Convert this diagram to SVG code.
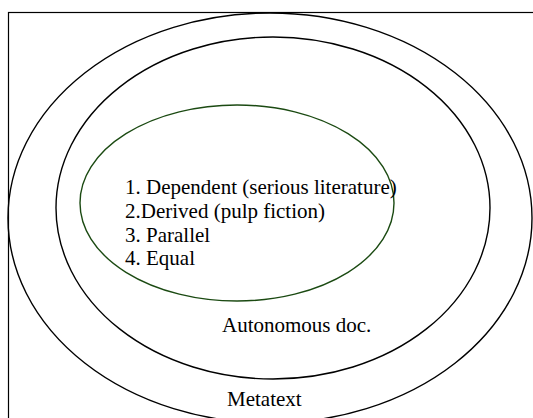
<svg xmlns="http://www.w3.org/2000/svg" width="533" height="418" viewBox="0 0 533 418">
<style>
.e{fill:none;stroke:#000;stroke-width:1.4}
.g{fill:none;stroke:#1b4a12;stroke-width:1.4}
.t{font-family:'Liberation Serif','Times New Roman',serif;font-size:21px;fill:#000}
</style>
<rect x="0" y="0" width="533" height="418" fill="#fff"/>
<rect x="8.5" y="12.5" width="540" height="420" fill="none" stroke="#000" stroke-width="1.2"/>
<g id="metatext">
<ellipse class="e" cx="270" cy="218" rx="262" ry="205"/>
<text class="t" x="227" y="406" font-family="Liberation Serif, serif">Metatext</text>
</g>
<g id="autonomous">
<ellipse class="e" cx="273" cy="208" rx="217" ry="171"/>
<text class="t" x="222" y="332" font-family="Liberation Serif, serif">Autonomous doc.</text>
</g>
<g id="types">
<ellipse class="g" cx="237" cy="203" rx="157" ry="98"/>
<text class="t" x="125" y="194" font-family="Liberation Serif, serif">1. Dependent (serious literature)</text>
<text class="t" x="125" y="218" font-family="Liberation Serif, serif">2.Derived (pulp fiction)</text>
<text class="t" x="125" y="242" font-family="Liberation Serif, serif">3. Parallel</text>
<text class="t" x="125" y="265" font-family="Liberation Serif, serif">4. Equal</text>
</g>
<g id="connectors"></g>
</svg>
